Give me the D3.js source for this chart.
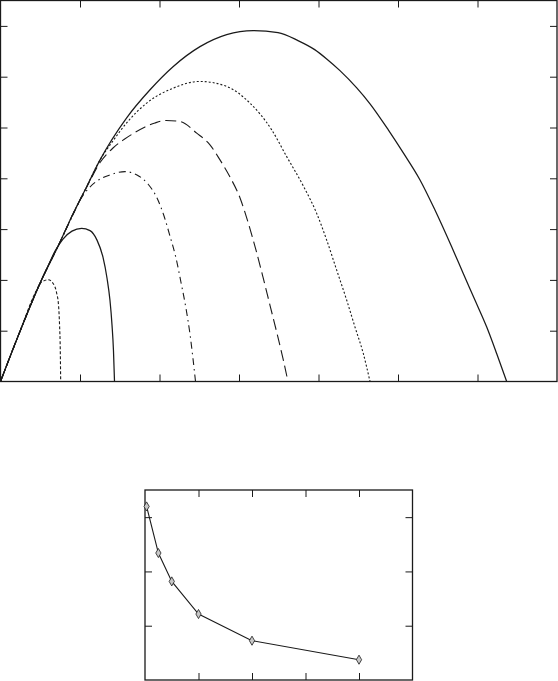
<!DOCTYPE html>
<html>
<head>
<meta charset="utf-8">
<script src="https://cdn.jsdelivr.net/npm/d3@7"></script>
<style>
  html, body { margin: 0; padding: 0; background: #fff; }
  svg { display: block; }
</style>
</head>
<body>
<svg id="chart" width="558" height="681"></svg>
<script>
// ---------- Top panel data (trajectories) ----------
const seriesA = [[0,0],[0.245,0.987],[0.497,1.934],[0.748,2.743],[0.916,3.31],[1.084,3.835],[1.252,4.362],[1.587,5.191],[1.881,5.743],[2.17,6.197],[2.509,6.592],[2.845,6.829],[3.18,6.908],[3.491,6.868],[3.742,6.711],[3.952,6.533],[4.103,6.35],[4.27,6.12],[4.481,5.78],[4.648,5.467],[4.878,4.954],[5.067,4.5],[5.277,3.967],[5.465,3.375],[5.675,2.651],[5.821,2.126],[5.969,1.599],[6.116,1.072],[6.242,0.547],[6.367,0]];
const seriesB = [[0,0],[0.245,0.987],[0.497,1.934],[0.748,2.743],[0.916,3.31],[1.084,3.835],[1.252,4.362],[1.415,4.737],[1.587,5.092],[1.839,5.481],[2.174,5.777],[2.509,5.907],[2.845,5.808],[3.138,5.481],[3.411,4.954],[3.6,4.427],[3.809,3.849],[3.977,3.31],[4.103,2.783],[4.229,2.191],[4.355,1.599],[4.459,1.072],[4.564,0.547],[4.648,0]];
const seriesC = [[0,0],[0.245,0.987],[0.497,1.934],[0.748,2.743],[0.916,3.31],[1.084,3.825],[1.252,4.311],[1.415,4.596],[1.553,4.764],[1.692,4.902],[1.818,5.01],[1.943,5.089],[2.082,5.138],[2.258,5.118],[2.468,4.889],[2.635,4.658],[2.761,4.362],[2.887,4.026],[3.013,3.612],[3.113,3.138],[3.214,2.585],[3.302,2.053],[3.39,1.5],[3.478,0.947],[3.553,0.454],[3.616,0]];
const seriesD = [[0,0],[0.245,0.987],[0.497,1.934],[0.748,2.743],[0.916,3.296],[1.0,3.572],[1.101,3.789],[1.214,3.947],[1.377,4.066],[1.566,4.131],[1.717,4.066],[1.855,3.888],[1.969,3.612],[2.057,3.257],[2.132,2.862],[2.208,2.428],[2.27,1.954],[2.333,1.441],[2.384,0.928],[2.421,0.454],[2.453,0]];
const seriesE = [[0,0],[0.245,0.987],[0.497,1.934],[0.597,2.27],[0.686,2.566],[0.786,2.803],[0.899,2.961],[1.021,3.014],[1.126,2.97],[1.214,2.783],[1.289,2.447],[1.34,2.033],[1.377,1.599],[1.403,1.105],[1.421,0.612],[1.434,0]];
const seriesF = [[0,0],[0.245,0.987],[0.447,1.776],[0.522,1.964],[0.601,2.003],[0.66,1.934],[0.704,1.757],[0.73,1.5],[0.743,1.105],[0.752,0.612],[0.757,0]];
const topXTicks = [1,2,3,4,5,6];
const topYTicks = [1,2,3,4,5,6,7];

// ---------- Bottom panel data ----------
const bottomX = [0.03, 0.25, 0.5, 1, 2, 4];
const bottomY = [3.197, 2.339, 1.816, 1.215, 0.724, 0.374];
const bottomXTicks = [1,2,3,4];
const bottomYTicks = [1,2,3];

const svg = d3.select("#chart");
const ink = "#1a1a1a";

// ---------- Top panel ----------
const tx = d3.scaleLinear().domain([0,7]).range([0.5,557]);
const ty = d3.scaleLinear().domain([0,7.5]).range([381.5,0.5]);

const styles = [
  {data: seriesA, dash: null, w: 1.25},
  {data: seriesB, dash: "2,2", w: 1.1},
  {data: seriesC, dash: "11,5", w: 1.1},
  {data: seriesD, dash: "7,4,1.5,4", w: 1.1},
  {data: seriesE, dash: null, w: 1.25},
  {data: seriesF, dash: "3,2", w: 1.1}
];
const line = d3.line().x(d => tx(d[0])).y(d => ty(d[1])).curve(d3.curveMonotoneX);
const topG = svg.append("g");
styles.forEach(s => {
  topG.append("path").attr("d", line(s.data)).attr("fill","none")
    .attr("stroke", ink).attr("stroke-width", s.w)
    .attr("stroke-dasharray", s.dash);
});

function frame(g, x, y, xt, yt, tick) {
  const [x0,x1] = x.range(), [y0,y1] = y.range();
  const axB = g.append("g").attr("transform",`translate(0,${y0})`)
    .call(d3.axisBottom(x).tickValues(xt).tickSize(-tick).tickFormat(""));
  const axT = g.append("g").attr("transform",`translate(0,${y1})`)
    .call(d3.axisTop(x).tickValues(xt).tickSize(-tick).tickFormat(""));
  const axL = g.append("g").attr("transform",`translate(${x0},0)`)
    .call(d3.axisLeft(y).tickValues(yt).tickSize(-tick).tickFormat(""));
  const axR = g.append("g").attr("transform",`translate(${x1},0)`)
    .call(d3.axisRight(y).tickValues(yt).tickSize(-tick).tickFormat(""));
  [axB,axT,axL,axR].forEach(a => {
    a.select(".domain").remove();
    a.selectAll("line").attr("stroke", ink).attr("stroke-width", 1);
  });
  g.append("rect").attr("x", x0).attr("y", y1).attr("width", x1-x0).attr("height", y0-y1)
    .attr("fill","none").attr("stroke", ink).attr("stroke-width", 1.3);
}
frame(topG, tx, ty, topXTicks, topYTicks, 7);

// ---------- Bottom panel ----------
const bx = d3.scaleLinear().domain([0,5]).range([145,412.5]);
const by = d3.scaleLinear().domain([0,3.5]).range([680,490]);
const botG = svg.append("g");
frame(botG, bx, by, bottomXTicks, bottomYTicks, 7);
const pts = bottomX.map((v,i) => [v, bottomY[i]]);
botG.append("path").attr("d", d3.line().x(d=>bx(d[0])).y(d=>by(d[1]))(pts))
  .attr("fill","none").attr("stroke", ink).attr("stroke-width", 1.1);
botG.selectAll("path.m").data(pts).enter().append("path").attr("class","m")
  .attr("d", d3.symbol(d3.symbolDiamond, 24)())
  .attr("transform", d => `translate(${bx(d[0])},${by(d[1])})`)
  .attr("fill", "#c8c8c8").attr("stroke", ink).attr("stroke-width", 0.8);
</script>
</body>
</html>
